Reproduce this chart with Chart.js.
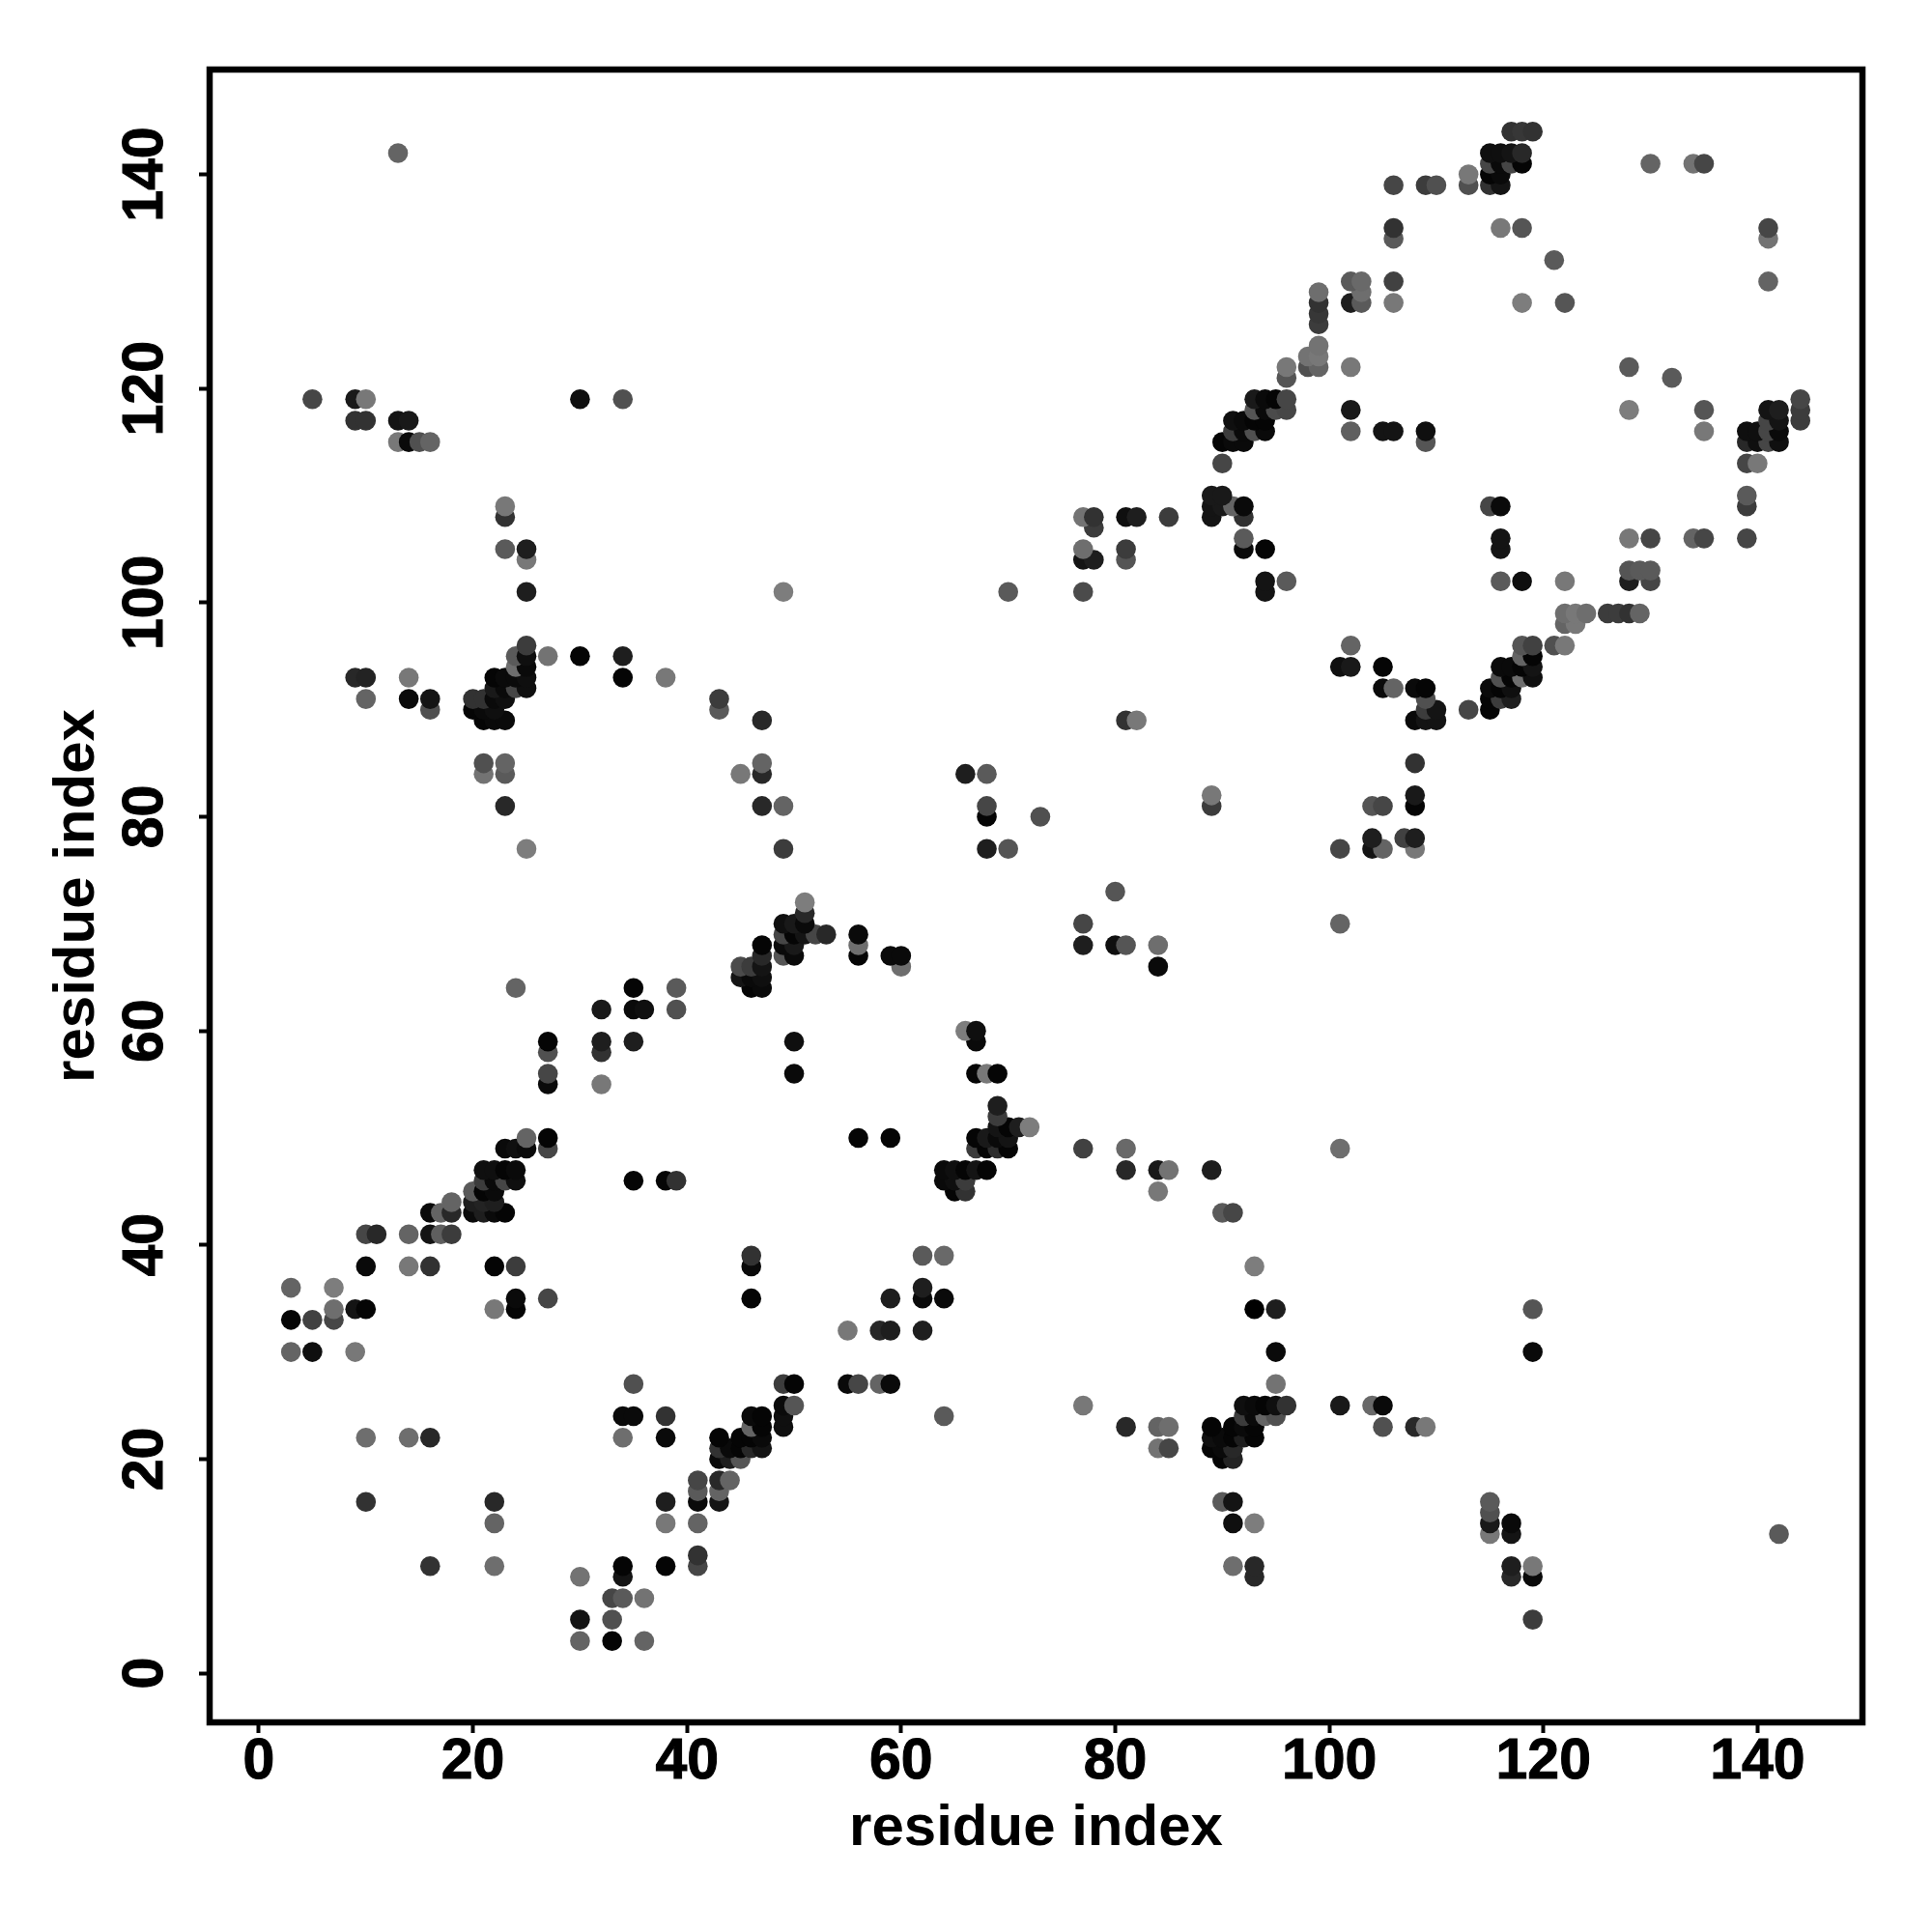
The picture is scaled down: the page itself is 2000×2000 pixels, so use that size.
<!DOCTYPE html>
<html>
<head>
<meta charset="utf-8">
<script src="https://cdn.jsdelivr.net/npm/chart.js@4"></script>
<style>
html, body { margin: 0; padding: 0; background: #fff; }
canvas { display: block; }
</style>
</head>
<body>
<canvas id="contacts" width="2000" height="2000"></canvas>
<script>
// contact map, one entry per row of the plot (low y first, later rows draw on top)
var rowY = [3,5,7,9,10,11,13,14,15,16,17,18,20,21,22,23,24,25,27,30,32,33,34,35,36,38,39,41,43,44,45,46,47,49,50,51,52,53,55,56,58,59,60,62,64,65,66,67,68,69,70,71,72,73,77,78,80,81,82,84,85,89,90,91,92,93,94,95,96,98,99,101,102,103,104,105,106,107,108,109,110,113,115,116,117,118,119,121,122,123,124,126,127,128,129,130,132,134,135,139,140,141,142,144];
var rowX = [
  [30,33,36],[30,33,119],[33,34,36],[30,34,93,117,119],[16,22,34,38,41,91,93,117,119],[41],[115,117,142],
  [22,38,41,91,93,115,117],[115],[10,22,38,41,43,90,91,115],[41,43],[41,43,44],[43,44,45,90,91],
  [43,44,45,46,47,84,85,89,90,91],[10,14,16,34,38,43,45,46,47,89,90,91,92,93],
  [46,47,49,81,84,85,89,91,92,93,105,108,109],[34,35,38,46,47,49,64,92,93,94,95],
  [49,50,77,92,93,94,95,96,101,104,105],[35,49,50,55,56,58,59,95],[3,5,9,95,119],[55,58,59,62],[3,5,7],
  [7,9,10,22,24,93,95,119],[24,27,46,59,62,64],[3,7,62],[10,14,16,22,24,46,93],[46,62,64],[10,11,14,16,17,18],
  [16,17,18,20,21,22,23,90,91],[18,20,21,22],[20,21,22,65,66,84],[21,22,23,24,35,38,39,64,65,66],
  [21,22,23,24,64,65,66,67,68,81,84,85,89],[23,24,25,27,67,68,69,70,77,81,101],[25,27,56,59,67,68,69,70],
  [69,70,71,72],[69],[69],[27,32],[27,50,67,68,69],[27,32],[27,32,35,50,67],[66,67],[32,35,36,39],[24,35,39,46,47],
  [45,46,47],[45,46,47,60,84],[47,49,50,56,59,60],[47,49,50,56,77,80,81,84],[49,50,51,52,53,56],[49,50,51,77,101],
  [51],[51],[80],[25,49,68,70,101,104,105,108],[104,107,108],[68,73],[23,47,49,68,89,104,105,108],[89,108],
  [21,23,45,47,66,68],[21,23,47,108],[21,22,23,47,81,82,108,109,110],[16,20,21,22,43,109,110,113,115],
  [10,14,16,20,21,22,23,43,109,115,116,117],[22,23,24,25,105,106,108,109,115,116,117],
  [9,10,14,22,23,24,25,34,38,116,117,118,119],[24,25,101,102,105,116,117,118,119],[24,25,27,30,34,118,119],
  [25,102,118,119,121,122],[122,123],[122,123,124,126,127,128,129],[25,49,70,77,94],[94,96,116,118,122,128,130],
  [128,129,130],[25,77,78,81],[23,25,77,81,92,94,116],[92,116,128,130,134,135,139],[78],
  [23,77,78,81,82,85,89,92],[23,89,90,91,92,115,116,139],[89,90,139],[90,139,140],
  [13,14,15,16,90,91,92,109,139,140,141,142],[91,92,93,94,102,105,106,109,135,139,140,141,142],
  [9,10,13,14,91,92,93,94,141,142,144],[93,94,95,96,102,128,135,141,142,144],[5,9,10,30,34,93,94,95,96,144],
  [96,132],[96,98,99,102,128],[98,99],[99],[99],[99],[99,102,103,106,118,122],[99,103],[102,103,106,141],[121],
  [106,141],[106,116,118,141],[106,109,110,113,115,116],[113,115,116],[115,116,117,118,130,134,135],
  [13,115,116,117,118],[117,118,119]
];
// grey value of each point, same layout as rowX
var rowLevel = [
  [100,5,100],[20,80,60],[70,90,115],[115,20,40,40,10],[50,110,5,5,70,110,40,30,120],[50],[120,20,90],
  [100,120,100,15,125,25,10],[80],[50,40,30,10,20,90,20,90],[90,100],[70,40,100],[10,30,85,5,35],
  [50,10,5,40,20,115,70,5,10,40],[110,110,40,110,10,5,5,5,10,15,10,5,30,5],
  [100,5,15,40,100,110,5,5,10,5,80,40,120],[10,10,50,10,5,15,90,60,10,100,80],
  [10,85,120,15,10,5,15,50,25,105,10],[80,60,5,10,70,100,10,115],[100,15,120,10,10],[120,40,30,30],[5,65,70],
  [110,20,5,120,5,0,30,85],[10,70,5,30,10,10],[100,125,30],[10,120,50,5,60,10,125],[50,90,105],[70,40,100,20,95,60],
  [10,100,40,10,30,10,5,90,70],[100,30,35,30],[90,5,10,5,50,120],[60,10,70,15,5,5,50,10,15,60],
  [15,15,5,10,10,15,5,20,5,40,25,115,30],[10,15,10,70,60,5,45,5,65,105,110],[100,5,5,5,5,25,10,20],
  [20,5,30,125],[60],[30],[10,120],[70,10,5,120,5],[80,50],[5,30,30,15,10],[125,15],[25,10,15,80],[100,5,90,5,10],
  [20,10,15],[75,60,20,110,10],[40,85,10,5,10,10],[5,10,25,110,30,15,85,110],[70,5,20,70,40,10],[15,25,10,70,100],
  [40],[125],[85],[125,60,30,85,70,20,100,120],[30,65,30],[5,80],[40,40,100,70,60,85,70,5],[120,25],
  [115,90,120,40,30,90],[80,100,100,50],[5,10,10,40,50,120,10,20,20],[80,5,10,15,90,60,20,70,5],
  [100,10,20,50,50,10,15,60,80,5,60,30],[25,10,70,15,10,100,10,5,10,5,15],
  [40,35,120,5,10,10,15,5,120,80,5,110,15],[110,10,15,25,5,10,10,5,20],[90,15,115,5,30,100,5],
  [60,100,85,65,80,120],[100,120],[110,120,110,60,60,50,100],[30,125,90,75,20],[20,90,90,15,120,30,70],
  [85,90,90],[120,20,30,85],[90,30,110,60,10,5,20],[90,20,120,70,100,70,70],[60],
  [50,115,50,15,30,60,20,50],[120,20,25,100,10,70,10,60],[25,25,90],[70,70,120],
  [120,10,80,100,5,10,10,85,40,15,70,15],[60,10,80,10,95,20,20,15,120,15,15,70,10],
  [50,50,20,25,15,10,5,5,70,20,60],[85,10,75,70,25,125,85,20,30,60],[70,25,120,15,80,25,10,5,70,70],
  [85,90],[120,80,100,120,90],[115,120],[115],[60],[55],[50,30,90,120,125,85],[110,110],[90,105,65,100],[90],
  [90,115],[50,120,85,70],[70,60,80,80,50,20],[120,5,10],[70,10,70,5,100,115,70],
  [100,15,15,20,40],[50,55,50]
];
var xTicks = [0,20,40,60,80,100,120,140];
var yTicks = [0,20,40,60,80,100,120,140];
var xLabel = 'residue index';
var yLabel = 'residue index';

var points = [];
var colors = [];
rowY.forEach(function (y, r) {
  rowX[r].forEach(function (x, k) {
    var g = rowLevel[r][k];
    points.push({ x: x, y: y });
    colors.push('rgb(' + g + ',' + g + ',' + g + ')');
  });
});

var frame = {
  id: 'frame',
  afterDatasetsDraw: function (chart) {
    var a = chart.chartArea, c = chart.ctx;
    c.save();
    c.strokeStyle = '#000';
    c.lineWidth = 6.5;
    c.lineJoin = 'miter';
    c.strokeRect(a.left, a.top, a.right - a.left, a.bottom - a.top);
    c.restore();
  }
};

var tickFont = { family: '"Liberation Sans"', size: 59, weight: 'bold' };
var titleFont = { family: '"Liberation Sans"', size: 60, weight: 'bold' };

new Chart(document.getElementById('contacts').getContext('2d'), {
  type: 'scatter',
  data: {
    datasets: [{
      data: points,
      pointRadius: 10.3,
      pointHoverRadius: 10.3,
      pointBorderWidth: 0,
      pointBackgroundColor: colors
    }]
  },
  plugins: [frame],
  options: {
    responsive: false,
    animation: false,
    layout: { padding: { left: 0, top: 72, right: 72, bottom: 0 } },
    plugins: { legend: { display: false }, tooltip: { enabled: false } },
    scales: {
      x: {
        type: 'linear',
        min: -4.6,
        max: 149.8,
        afterFit: function (s) { s.height = 217; },
        afterBuildTicks: function (s) { s.ticks = xTicks.map(function (v) { return { value: v }; }); },
        border: { display: false },
        grid: { drawOnChartArea: false, tickLength: 11, tickWidth: 4, tickColor: '#000' },
        ticks: { color: '#000', font: tickFont, padding: -5, maxRotation: 0, autoSkip: false, includeBounds: false, textStrokeWidth: 1, textStrokeColor: '#000' },
        title: { display: true, text: xLabel, color: '#000', font: titleFont, padding: { top: 0, bottom: 71 } }
      },
      y: {
        type: 'linear',
        min: -4.6,
        max: 149.8,
        afterFit: function (s) { s.width = 217; },
        afterBuildTicks: function (s) { s.ticks = yTicks.map(function (v) { return { value: v }; }); },
        border: { display: false },
        grid: { drawOnChartArea: false, tickLength: 11, tickWidth: 4, tickColor: '#000' },
        ticks: { color: '#000', font: tickFont, padding: 5, minRotation: 90, maxRotation: 90, crossAlign: 'center', autoSkip: false, includeBounds: false, textStrokeWidth: 1, textStrokeColor: '#000' },
        title: { display: true, text: yLabel, color: '#000', font: titleFont, padding: { top: 44, bottom: 0 } }
      }
    }
  }
});
</script>
</body>
</html>
